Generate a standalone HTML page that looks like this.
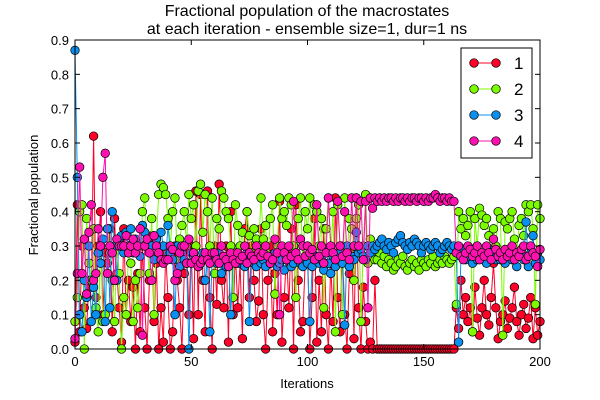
<!DOCTYPE html>
<html><head><meta charset="utf-8"><style>
html,body{margin:0;padding:0;background:#fff;}
svg{display:block;font-family:"Liberation Sans","DejaVu Sans",sans-serif;}
</style></head><body>
<svg id="chart" width="600" height="400" viewBox="0 0 600 400">
<text x="307" y="16" font-size="16" text-anchor="middle">Fractional population of the macrostates</text>
<text x="307" y="34" font-size="16" text-anchor="middle">at each iteration - ensemble size=1, dur=1 ns</text>
<g id="series"></g>
<rect x="75" y="40" width="465" height="309" fill="none" stroke="#000" stroke-width="1"/>
<g id="axes"></g>
<text x="307" y="388" font-size="13" text-anchor="middle">Iterations</text>
<text x="38" y="195" font-size="13" text-anchor="middle" transform="rotate(-90 38 195)">Fractional population</text>
<g id="legend"></g>
</svg>
<script>
const xTicks=[0,50,100,150,200];
const yTicks=[0,0.1,0.2,0.3,0.4,0.5,0.6,0.7,0.8,0.9];
const yTickLabels=["0.0","0.1","0.2","0.3","0.4","0.5","0.6","0.7","0.8","0.9"];
const seriesNames=["1","2","3","4"];
const seriesColors=["#ff0028","#7cfc00","#0a90f0","#ff10b0"];
const s1=[2,42,5,30,12,6,20,18,62,15,30,40,10,28,25,35,5,38,22,12,2,35,10,20,8,18,0,22,5,30,12,0,20,33,8,25,0,12,2,28,15,0,5,30,20,12,0,22,30,10,30,3,46,10,45,20,5,46,15,0,30,13,48,20,12,30,2,40,10,28,12,25,3,35,40,15,30,20,8,14,35,10,0,20,30,5,22,10,43,2,15,28,12,35,0,42,20,5,8,25,30,0,15,38,2,20,5,35,10,0,25,8,44,15,5,30,10,0,22,28,3,44,12,0,18,8,0,2,0,20,
0,0,0,0,0,0,0,0,0,0,0,0,0,0,0,0,0,0,0,0,0,0,0,0,0,0,0,0,0,0,0,0,0,0,
12,6,20,10,15,8,12,5,18,9,4,12,20,10,7,15,25,12,3,8,10,14,6,9,12,18,8,4,10,13,6,9,15,3,12,4,8];
const s2=[8,15,40,42,0,38,25,20,35,12,5,30,8,10,35,28,20,8,30,22,0,15,10,28,25,8,20,12,22,40,44,30,22,38,10,32,45,48,47,45,38,30,40,44,26,32,36,40,30,45,38,42,30,46,48,34,45,40,30,44,22,38,35,46,44,40,38,30,15,42,36,30,34,25,40,33,28,35,32,30,44,32,36,25,38,42,16,30,44,38,40,36,44,42,30,15,38,44,26,40,35,44,28,42,40,30,38,12,35,44,28,40,5,42,30,10,44,25,38,35,20,38,42,8,30,45,25,32,28,26,
26,28,25,27,24,26,25,23,24,26,25,27,24,23,25,26,24,25,23,26,25,24,26,25,27,24,25,26,25,27,26,25,26,27,
13,40,35,38,33,36,40,5,38,30,41,39,36,38,33,28,35,30,40,38,4,37,35,38,40,32,28,36,38,33,42,40,42,35,13,42,38];
const s3=[87,50,10,5,20,15,30,8,18,10,28,25,32,8,35,12,40,30,20,32,33,28,34,30,35,28,32,30,27,36,34,32,28,30,26,32,28,34,30,26,36,28,26,10,30,24,28,26,25,0,28,27,26,24,25,28,20,26,5,27,26,25,28,22,26,24,27,10,26,25,25,26,27,24,28,8,26,25,24,27,25,26,24,27,25,26,28,24,25,26,23,26,27,24,25,28,26,25,24,26,25,8,24,26,27,25,26,23,28,25,22,27,24,26,28,25,7,30,24,27,26,34,28,29,27,26,30,28,30,29,
30,31,32,30,29,31,30,28,31,32,33,31,30,29,31,30,32,31,30,28,30,31,30,29,30,31,30,28,29,30,31,30,29,30,
28,2,27,29,26,28,27,25,28,26,28,27,26,25,29,28,27,26,28,26,27,25,28,27,26,28,24,27,28,26,37,24,28,33,25,28,26];
const s4=[3,22,53,22,32,16,34,42,20,22,35,30,50,57,22,30,28,20,32,30,30,30,33,28,30,32,28,30,35,4,30,32,28,20,33,30,28,26,25,26,26,30,29,20,22,28,30,30,25,32,25,28,26,24,25,26,28,26,25,28,28,26,25,30,27,26,24,28,26,25,28,26,27,30,25,28,27,26,30,28,27,28,30,27,25,26,32,28,10,30,28,26,30,27,43,28,26,32,30,27,30,28,29,26,42,27,30,25,28,44,30,28,26,43,30,27,40,28,26,44,30,44,30,43,26,43,12,44,41,44,
43,44,43,44,43,44,44,43,44,43,44,44,43,44,43,44,44,43,44,44,43,44,43,44,44,45,44,43,44,44,43,44,43,43,
28,30,27,26,28,30,29,27,28,30,26,28,27,30,28,26,32,29,27,28,26,29,27,28,30,26,28,27,29,30,26,27,30,28,27,24,29];
const allSeries=[s1,s2,s3,s4];

const NS="http://www.w3.org/2000/svg";
const X0=75,X1=540,Y0=349,Y1=40;
function xs(i){return X0+(i-0)/(200-0)*(X1-X0);}
function ys(v){return Y0-(v-0)/(0.9-0)*(Y0-Y1);}
function mk(tag,attrs,parent){const e=document.createElementNS(NS,tag);for(const k in attrs)e.setAttribute(k,attrs[k]);parent.appendChild(e);return e;}

const axes=document.getElementById('axes');
xTicks.forEach(t=>{
  const x=xs(t);
  const a=mk('line',{x1:x,x2:x,y1:Y0,y2:Y0-5,stroke:'#000'},axes);
  
  
  const b=mk('line',{x1:x,x2:x,y1:Y1,y2:Y1+5,stroke:'#000'},axes);
  
  
  const l=mk('text',{x:x,y:Y0+17,'font-size':13,'text-anchor':'middle'},axes);
  l.textContent=t;
  
  
});
yTicks.forEach((t,i)=>{
  const y=ys(t);
  const a=mk('line',{x1:X0,x2:X0+5,y1:y,y2:y,stroke:'#000'},axes);
  
  
  const b=mk('line',{x1:X1,x2:X1-5,y1:y,y2:y,stroke:'#000'},axes);
  
  
  const l=mk('text',{x:X0-6,y:y+5,'font-size':13,'text-anchor':'end'},axes);
  l.textContent=yTickLabels[i];
  
  
});

const sg=document.getElementById('series');
allSeries.forEach((arr,si)=>{
  const g=mk('g',{},sg);
  
  
  const pts=arr.map((v,i)=>xs(i).toFixed(2)+','+ys(v/100).toFixed(2)).join(' ');
  const pl=mk('polyline',{points:pts,fill:'none',stroke:seriesColors[si],'stroke-width':1},g);
  
  
  arr.forEach((v,i)=>{
    const c=mk('circle',{cx:xs(i),cy:ys(v/100),r:4.3,fill:seriesColors[si],stroke:'#000','stroke-width':0.7},g);
    
    
  });
});

const lg=document.getElementById('legend');
const box=mk('rect',{x:461,y:48,width:71,height:110,fill:'#fff',stroke:'#000','stroke-width':1},lg);


seriesNames.forEach((n,i)=>{
  const y=63+i*26;
  const g=mk('g',{},lg);
  
  
  mk('line',{x1:474,x2:496,y1:y,y2:y,stroke:seriesColors[i],'stroke-width':1},g);
  mk('circle',{cx:474,cy:y,r:4.3,fill:seriesColors[i],stroke:'#000','stroke-width':0.7},g);
  mk('circle',{cx:496,cy:y,r:4.3,fill:seriesColors[i],stroke:'#000','stroke-width':0.7},g);
  const t=mk('text',{x:514,y:y+6,'font-size':17},g);
  t.textContent=n;
});
</script>
</body></html>
